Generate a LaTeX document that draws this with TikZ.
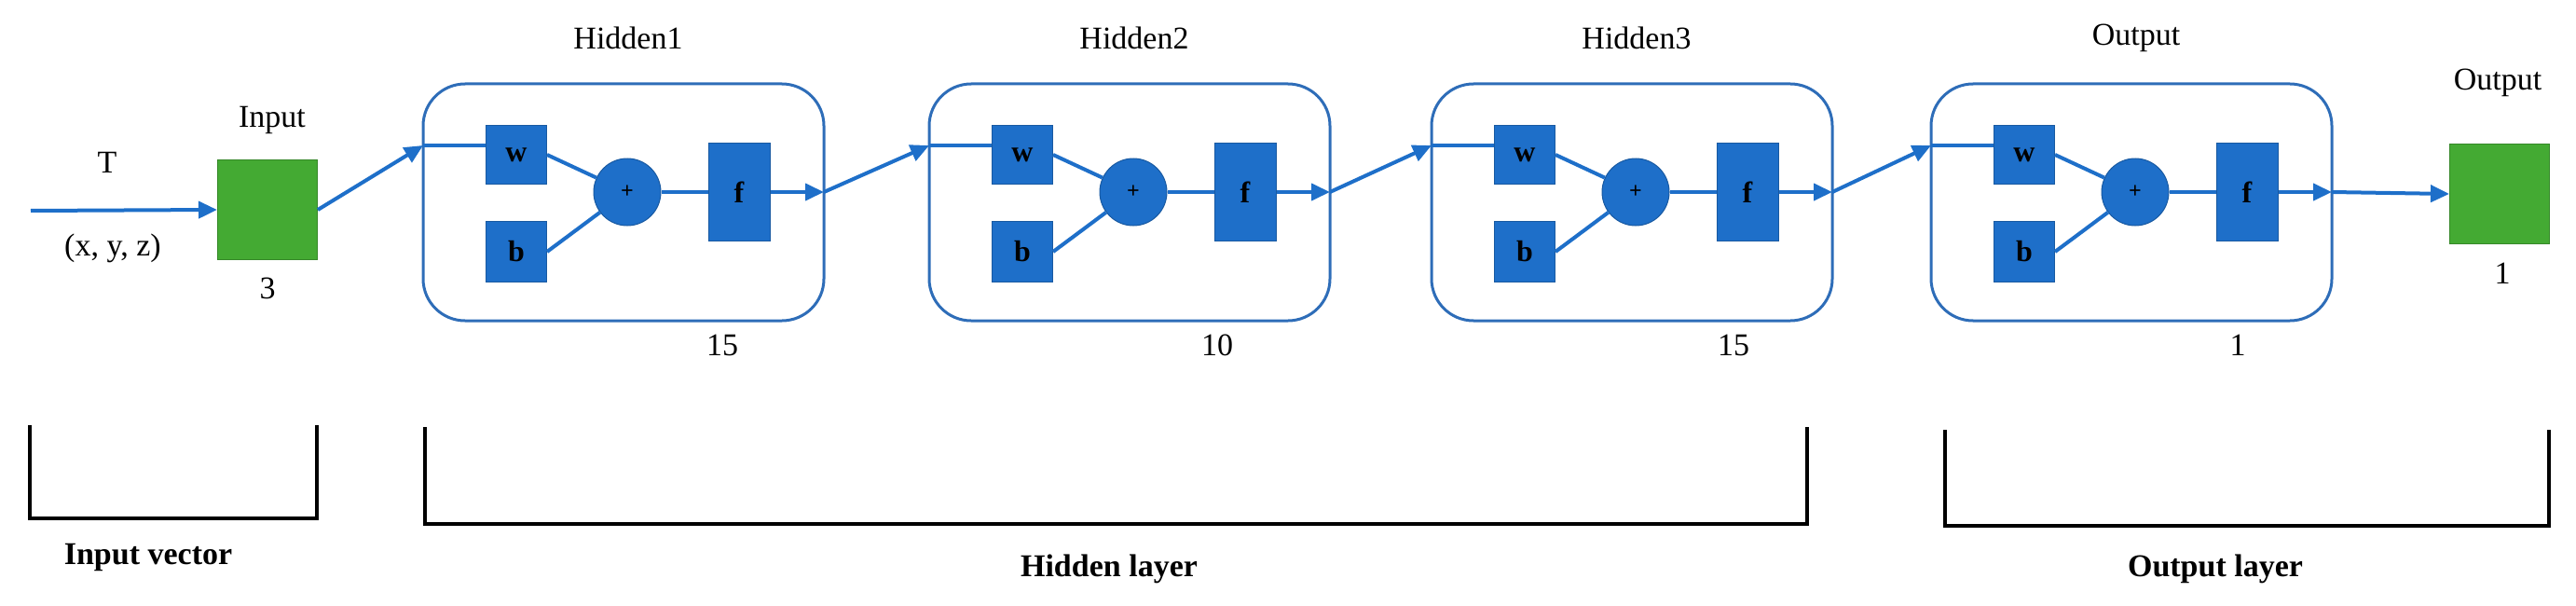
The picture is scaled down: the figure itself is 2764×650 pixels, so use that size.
\documentclass[tikz,border=0pt]{standalone}
\usepackage{fontspec}
\setmainfont{Liberation Serif}
\usetikzlibrary{arrows.meta,calc}
\definecolor{nblue}{HTML}{1E6FC9}
\definecolor{lblue}{HTML}{2E6DB8}
\definecolor{ngreen}{HTML}{44AA33}
\begin{document}
\begin{tikzpicture}[x=1pt,y=-1pt,
  lbl/.style={font=\fontsize{34}{36}\selectfont,inner sep=0},
  blbl/.style={font=\bfseries\fontsize{34}{36}\selectfont,inner sep=0},
  unit/.style={draw=lblue,line width=3pt,rounded corners=45pt,minimum width=430pt,minimum height=254pt,inner sep=0},
  blk/.style={fill=nblue,draw=nblue!80!black,line width=1pt,inner sep=0,font=\bfseries\fontsize{32}{34}\selectfont},
  sum/.style={circle,fill=nblue,draw=nblue!80!black,line width=1pt,minimum size=72pt,inner sep=0,font=\bfseries\fontsize{24}{26}\selectfont},
  gbox/.style={fill=ngreen,draw=ngreen!80!black,line width=1pt,minimum width=107pt,minimum height=107pt,inner sep=0},
  conn/.style={draw=nblue,line width=4pt},
  arr/.style={conn,-{Triangle[length=20pt,width=18pt]}},
  brk/.style={draw=black,line width=3.5pt}]
\useasboundingbox (0,0) rectangle (2764,650);
\node[gbox] (inp) at (287,225) {};
\node[gbox] (outp) at (2682,208) {};
\coordinate (src) at (33,226);
\node[lbl] at (115,174) {T};
\node[lbl] at (121,266) {(x, y, z)};
\node[lbl] at (292,129) {Input};
\node[lbl] at (287,309) {3};
\node[lbl] at (2680,89) {Output};
\node[lbl] at (2685,293) {1};
\foreach \i/\x/\t/\n/\nx in {1/454/Hidden1/15/775, 2/997/Hidden2/10/1306, 3/1536/Hidden3/15/1860, 4/2072/Output/1/2401}{
  \node[unit] (L\i) at (\x+215,217) {};
  \node[blk,minimum width=65pt,minimum height=63pt] (w\i) at (\x+100,166) {w};
  \node[blk,minimum width=65pt,minimum height=65pt] (b\i) at (\x+100,270) {b};
  \node[sum] (s\i) at (\x+219,206) {+};
  \node[blk,minimum width=66pt,minimum height=105pt] (f\i) at (\x+339,206) {f};
  \node[lbl] at (\x+220,41) {\t};
  \node[lbl] at (\nx,370) {\n};
  \coordinate (in\i) at (\x,156);
  \coordinate (out\i) at (\x+430,206);
  \draw[conn] (in\i) -- (in\i -| w\i.west);
  \draw[conn] (w\i.east) -- (s\i);
  \draw[conn] (b\i.east) -- (s\i);
  \draw[conn] (s\i) -- (f\i);
  \draw[arr] (f\i.east) -- (out\i);
}
\draw[arr] (src) -- (inp.west);
\draw[arr] (inp.east) -- (in1);
\draw[arr] (out1) -- (in2);
\draw[arr] (out2) -- (in3);
\draw[arr] (out3) -- (in4);
\draw[arr] (out4) -- (outp.west);
\coordinate (bA1) at (32,456); \coordinate (bA2) at (340,556);
\coordinate (bB1) at (456,458); \coordinate (bB2) at (1939,562);
\coordinate (bC1) at (2087,461); \coordinate (bC2) at (2735,564);
\draw[brk] (bA1) |- (bA2) -- (bA2 |- bA1);
\draw[brk] (bB1) |- (bB2) -- (bB2 |- bB1);
\draw[brk] (bC1) |- (bC2) -- (bC2 |- bC1);
\node[blbl] at (159,598) {Input vector};
\node[blbl] at (1190,610) {Hidden layer};
\node[blbl] at (2377,610) {Output layer};
\end{tikzpicture}
\end{document}
